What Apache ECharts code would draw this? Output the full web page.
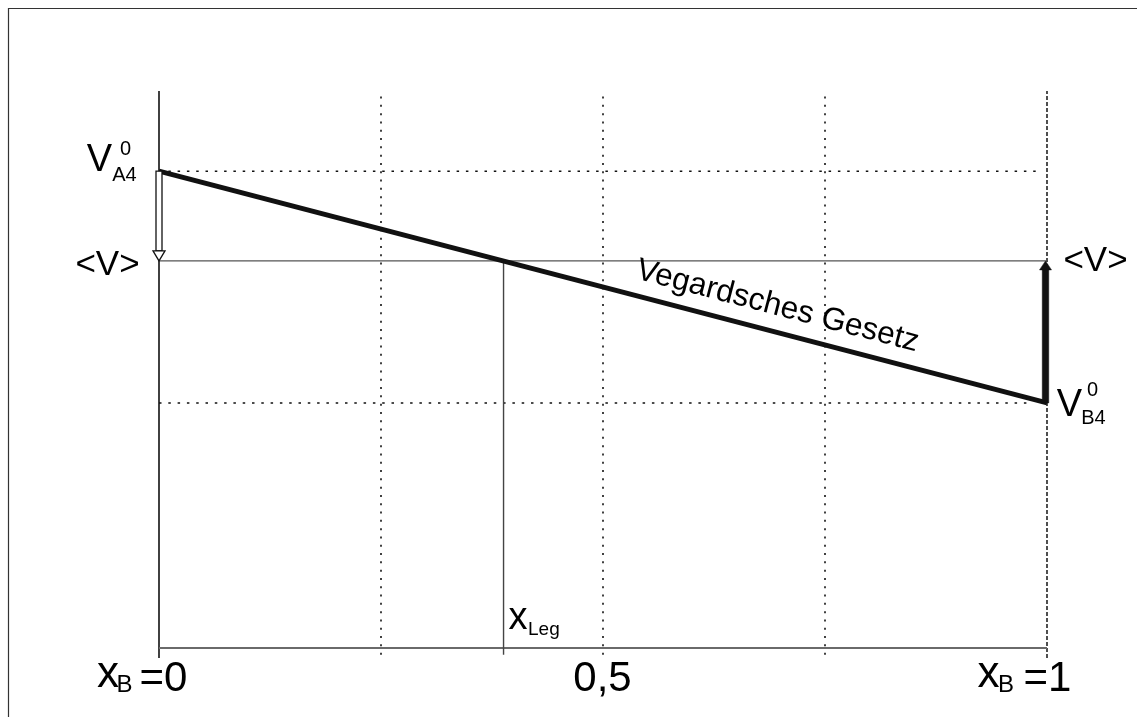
<!DOCTYPE html>
<html>
<head>
<meta charset="utf-8">
<script src="https://cdn.jsdelivr.net/npm/echarts@6/dist/echarts.min.js"></script>
<style>
  html, body { margin: 0; padding: 0; background: #fff; }
  #chart { width: 1137px; height: 717px; }
</style>
</head>
<body>
<div id="chart"></div>
<script>
// Vegard's law: mean volume of a mixed crystal against the mole fraction x_B
const V_A4 = 85.6;      // V°(A4), pure A at x_B = 0
const V_B4 = 44.0;      // V°(B4), pure B at x_B = 1
const V_MEAN = 69.5;    // <V>
const X_LEG = 0.388;    // x_Leg, composition where the law gives <V>
const xGrid = [0.25, 0.5, 0.75];
const xTicks = [0, 0.5, 1];
const xTickTexts = ['=0', '0,5', '=1'];
const Y_MIN = -1.8, Y_MAX = 100;

const FONT = '"Liberation Sans", Arial, Helvetica, sans-serif';
const INK = '#000';

function seg(name, pts, style, extra) {
  return Object.assign({
    name, type: 'line', data: pts, symbol: 'none', silent: true,
    animation: false, lineStyle: Object.assign({ color: '#151515', width: 1.5, cap: 'butt' }, style)
  }, extra || {});
}

const series = [];

// vertical dotted grid lines
xGrid.forEach(function (x) {
  series.push(seg('grid' + x, [[x, -1.2], [x, Y_MAX]], { width: 1.6, type: [2, 6.3], color: '#111' }));
});
// left axis (x_B = 0) and right boundary (x_B = 1)
series.push(seg('axis0', [[0, Y_MIN], [0, Y_MAX]], { width: 1.6, color: '#111' }));
series.push(seg('axis1', [[1, Y_MIN], [1, Y_MAX]], { width: 1.6, type: [4, 2], color: '#222' }));
// reference levels
series.push(seg('levelA', [[0, V_A4], [0.99, V_A4]], { width: 1.5, type: [2.5, 6.8], color: '#111' }));
series.push(seg('levelB', [[0, V_B4], [0.983, V_B4]], { width: 1.5, type: [2.5, 6.8], color: '#111' }));
series.push(seg('mean', [[-0.0135, V_MEAN], [1, V_MEAN]], { width: 1.4, color: '#555' }, { clip: false }));
// composition axis
series.push(seg('xaxis', [[0, 0], [1, 0]], { width: 2, color: '#6a6a6a' }));
// x_Leg drop line
series.push(seg('xleg', [[X_LEG, -1.2], [X_LEG, V_MEAN]], { width: 1.4, color: '#444' }));
// Vegard's law line
series.push(seg('vegard', [[0, V_A4], [1, V_B4]], { width: 5, color: '#111', join: 'miter' }, { z: 4 }));

// arrows from the pure-component volumes to <V>
series.push({
  name: 'arrows', type: 'custom', silent: true, animation: false, z: 5, clip: false,
  data: [[0, V_A4, V_MEAN, 1], [1, V_B4, V_MEAN, 0]],
  renderItem: function (params, api) {
    const hollow = api.value(3) === 1;
    const p0 = api.coord([api.value(0), api.value(1)]);
    const p1 = api.coord([api.value(0), api.value(2)]);
    const dir = p1[1] > p0[1] ? 1 : -1;
    const headLen = hollow ? 10 : 9, headHalf = 6;
    const x = p0[0] + (hollow ? 0 : -1.5);
    const baseY = p1[1] - dir * headLen;
    const shaftW = hollow ? 6 : 6.5;
    const top = Math.min(p0[1], baseY), bot = Math.max(p0[1], baseY);
    const style = hollow
      ? { fill: '#fff', stroke: '#111', lineWidth: 1.3 }
      : { fill: '#111', stroke: '#111', lineWidth: 0.5 };
    return {
      type: 'group',
      children: [
        { type: 'rect', shape: { x: x - shaftW / 2, y: top, width: shaftW, height: bot - top }, style: style },
        { type: 'polygon', shape: { points: [[x - headHalf, baseY], [x + headHalf, baseY], [x, p1[1]]] }, style: style }
      ]
    };
  }
});

// text labels anchored to data points
function txt(at, text, size, dx, dy, align, extra) {
  return {
    value: at,
    label: Object.assign({
      show: true, position: [0, 0], formatter: text, fontSize: size, fontFamily: FONT,
      color: INK, opacity: 1, align: align || 'center', verticalAlign: 'middle', offset: [dx, dy]
    }, extra || {})
  };
}

const texts = [
  txt([0, V_A4], 'V', 38, -59, -10),
  txt([0, V_A4], '0', 20, -33, -21),
  txt([0, V_A4], 'A4', 20, -34, 5),
  txt([1, V_B4], 'V', 38, 23, 3),
  txt([1, V_B4], '0', 20, 46, -12),
  txt([1, V_B4], 'B4', 20, 47, 16),
  txt([0, V_MEAN], '<V>', 35, -51, 5),
  txt([1, V_MEAN], '<V>', 35, 49, 1),
  txt([X_LEG, 0], 'x', 38, 15, -29),
  txt([X_LEG, 0], 'Leg', 19, 25, -18, 'left'),
  // tick labels on the composition axis
  txt([xTicks[0], 0], 'x', 44, -50.5, 27),
  txt([xTicks[0], 0], 'B', 24, -34, 38),
  txt([xTicks[0], 0], xTickTexts[0], 42, -19, 32, 'left'),
  txt([xTicks[1], 0], xTickTexts[1], 42, 0, 32),
  txt([xTicks[2], 0], 'x', 44, -58, 27),
  txt([xTicks[2], 0], 'B', 24, -40.5, 38),
  txt([xTicks[2], 0], xTickTexts[2], 42, -23, 32, 'left'),
  // name of the straight line, laid along it
  txt([0.69, V_A4 + (V_B4 - V_A4) * 0.69], 'Vegardsches Gesetz', 31.5, 0, -25, 'center', { rotate: -14.6 })
];

series.push({
  name: 'texts', type: 'scatter', data: texts, symbolSize: 1, silent: true, animation: false,
  clip: false, z: 6, itemStyle: { color: 'rgba(0,0,0,0)' }
});

const chart = echarts.init(document.getElementById('chart'), null, { renderer: 'canvas' });
chart.setOption({
  animation: false,
  backgroundColor: '#fff',
  grid: { left: 159, right: 90, top: 91, bottom: 59 },
  xAxis: { type: 'value', min: 0, max: 1, show: false },
  yAxis: { type: 'value', min: Y_MIN, max: Y_MAX, show: false },
  graphic: [{
    type: 'rect', silent: true,
    shape: { x: 8.5, y: 8.5, width: 1300, height: 900 },
    style: { fill: 'none', stroke: '#333', lineWidth: 1.2 }
  }],
  series: series
});
</script>
</body>
</html>
